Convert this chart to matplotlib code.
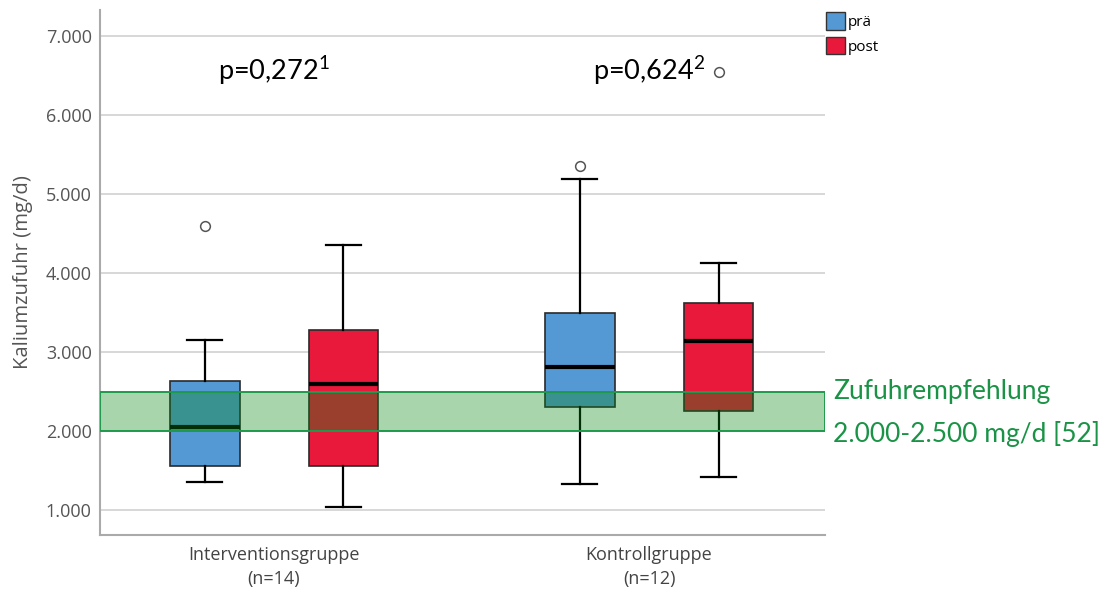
import matplotlib
matplotlib.use("Agg")
import matplotlib.pyplot as plt
from matplotlib.patches import Patch
from matplotlib.ticker import FuncFormatter

plt.rcParams["font.family"] = ["Open Sans", "DejaVu Sans"]
plt.rcParams["mathtext.fontset"] = "custom"
plt.rcParams["mathtext.rm"] = "Lato"
plt.rcParams["mathtext.it"] = "Lato"

# Werte (mg/d)
gruppen = ["Interventionsgruppe\n(n=14)", "Kontrollgruppe\n(n=12)"]
zeitpunkte = ["prä", "post"]
p_werte = ["p=0,272$^{1}$", "p=0,624$^{2}$"]

# je Gruppe: [prä, post]
whisker_unten = [[1355, 1033], [1334, 1414]]
q1 = [[1553, 1553], [2298, 2247]]
median = [[2057, 2590], [2815, 3136]]
q3 = [[2628, 3275], [3491, 3614]]
whisker_oben = [[3157, 4354], [5188, 4126]]
ausreisser = [[[4590], []], [[5350], [6545]]]

empfehlung = (2000, 2500)
farben = ["#5499d3", "#e8193a"]

fig = plt.figure(figsize=(11.04, 5.92), dpi=100)
ax = fig.add_axes([0.0906, 0.0963, 0.6567, 0.887])

versatz = 0.185
breite = 0.186
for g in range(len(gruppen)):
    for z in range(len(zeitpunkte)):
        st = dict(whislo=whisker_unten[g][z], q1=q1[g][z], med=median[g][z],
                  q3=q3[g][z], whishi=whisker_oben[g][z],
                  fliers=ausreisser[g][z])
        pos = g + (-versatz if z == 0 else versatz)
        ax.bxp([st], positions=[pos], widths=breite, patch_artist=True,
               showfliers=True, manage_ticks=False,
               boxprops=dict(facecolor=farben[z], edgecolor="#2a2a2a", linewidth=1.2),
               medianprops=dict(color="black", linewidth=3),
               whiskerprops=dict(color="black", linewidth=1.6),
               capprops=dict(color="black", linewidth=1.6),
               capwidths=breite / 2,
               flierprops=dict(marker="o", markerfacecolor="white",
                               markeredgecolor="#555555", markersize=7,
                               markeredgewidth=1.1),
               zorder=3)

ax.set_xlim(-0.464, 1.469)
ax.set_ylim(684, 7330)

# Empfehlungsbereich
ax.axhspan(empfehlung[0], empfehlung[1], facecolor=(9/255, 135/255, 21/255),
           alpha=0.35, edgecolor="none", zorder=4)
ax.axhspan(empfehlung[0], empfehlung[1], facecolor="none",
           edgecolor="#1f9a4c", linewidth=1.4, zorder=5)

ax.set_yticks([1000, 2000, 3000, 4000, 5000, 6000, 7000])
ax.yaxis.set_major_formatter(FuncFormatter(lambda v, _: f"{int(v):,}".replace(",", ".")))
ax.grid(axis="y", color="#d4d4d4", linewidth=1.3, zorder=0)
ax.set_axisbelow(True)
ax.set_xticks(range(len(gruppen)))
ax.set_xticklabels(gruppen, fontsize=13, color="#444444", linespacing=1.4)
ax.tick_params(axis="y", length=0, labelsize=13, labelcolor="#555555", pad=6)
ax.tick_params(axis="x", length=0, pad=8)
for s in ["top", "right"]:
    ax.spines[s].set_visible(False)
for s in ["left", "bottom"]:
    ax.spines[s].set_color("#aaaaaa")
    ax.spines[s].set_linewidth(1.5)

ax.set_ylabel("Kaliumzufuhr (mg/d)", fontsize=14.6, color="#555555", labelpad=9)

for g, txt in enumerate(p_werte):
    ax.text(g, 6560, txt, ha="center", va="center", fontsize=19.5,
            family="Lato", color="black")

fig.text(833 / 1104, 1 - 392 / 592, "Zufuhrempfehlung", color="#1a9346",
         fontsize=19, family="Lato", ha="left", va="center")
fig.text(833 / 1104, 1 - 434 / 592, "2.000-2.500 mg/d [52]", color="#1a9346",
         fontsize=19, family="Lato", ha="left", va="center")

handles = [Patch(facecolor=farben[i], edgecolor="#333333", label=zeitpunkte[i])
           for i in range(2)]
fig.legend(handles=handles, loc="upper left", bbox_to_anchor=(826 / 1104, 1 - 12 / 592),
           frameon=False, fontsize=11, handlelength=1.25, handleheight=1.4,
           handletextpad=0.2, labelspacing=0.45, borderaxespad=0, borderpad=0)

fig.savefig("out.png", dpi=100)
